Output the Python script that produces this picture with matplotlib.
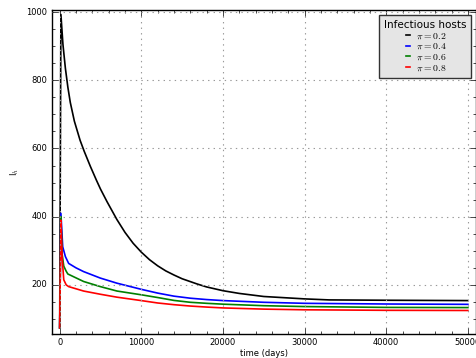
import matplotlib
matplotlib.use('Agg')
import matplotlib.pyplot as plt
from matplotlib.ticker import MultipleLocator

# datos (tiempo en dias, I_h)
t_02 = [0, 150, 400, 700, 1000, 1300, 1800, 2500, 3000, 3750, 4500, 5000, 5800,
        7000, 8000, 9000, 10000, 11000, 12000, 13000, 14000, 15000, 16800, 18000,
        20000, 22000, 25000, 30000, 33000, 40000, 50000]
i_02 = [74, 993, 905, 835, 780, 735, 680, 624, 592, 548, 507, 481, 444,
        392, 354, 322, 296, 274, 256, 241, 229, 218, 203, 194,
        183, 175, 166, 159, 156, 155, 154]

t_04 = [0, 150, 370, 700, 1100, 2000, 2930, 4980, 7020, 10000, 12000, 14000,
        16000, 18000, 20000, 25000, 30000, 40000, 50000]
i_04 = [74, 410, 312, 283, 263, 250, 239, 220, 205, 187, 176, 167,
        161, 157, 154, 149, 146, 144, 143]

t_06 = [0, 150, 300, 500, 800, 1000, 2930, 4980, 7020, 10000, 12000, 14000,
        16000, 18000, 20000, 25000, 30000, 40000, 50000]
i_06 = [74, 400, 290, 255, 240, 232, 210, 195, 182, 171, 163, 154.5,
        149, 146, 143.5, 139, 136.5, 134, 133.5]

t_08 = [0, 150, 300, 500, 800, 1100, 2930, 4980, 7020, 10000, 12000, 14000,
        16000, 18000, 20000, 25000, 30000, 40000, 50000]
i_08 = [74, 390, 280, 215, 200, 195, 182, 172.6, 164, 154, 147, 142,
        138, 135, 132.5, 129, 127, 125.5, 125]

plt.style.use('classic')
plt.rcParams['figure.facecolor'] = 'white'

fig = plt.figure(figsize=(4.77, 3.58), dpi=100)
ax = fig.add_axes([0.108, 0.067, 0.890, 0.905])

ax.plot(t_02, i_02, color='k', lw=1.2, label=r'$\pi=0.2$')
ax.plot(t_04, i_04, color='b', lw=1.2, label=r'$\pi=0.4$')
ax.plot(t_06, i_06, color='g', lw=1.2, label=r'$\pi=0.6$')
ax.plot(t_08, i_08, color='r', lw=1.2, label=r'$\pi=0.8$')

ax.set_xlim(-1000, 51000)
ax.set_ylim(56, 1006)
ax.xaxis.set_major_locator(MultipleLocator(10000))
ax.xaxis.set_minor_locator(MultipleLocator(2000))
ax.yaxis.set_major_locator(MultipleLocator(200))
ax.yaxis.set_minor_locator(MultipleLocator(50))
ax.tick_params(labelsize=6, which='both', pad=3)
ax.tick_params(which='major', length=4)
ax.tick_params(which='minor', length=2)

ax.grid(True, color='0.6', linestyle=':', linewidth=0.8)
ax.set_xlabel('time (days)', fontsize=6, labelpad=1)
ax.set_ylabel(r'I$_h$', fontsize=6, labelpad=4)

leg = ax.legend(loc='upper right', title='Infectious hosts', fontsize=7,
                handlelength=1.0, handletextpad=0.3, labelspacing=0.05,
                borderpad=0.5, fancybox=False)
leg.get_title().set_fontsize(7.5)
leg.get_frame().set_facecolor('#e5e5e5')
leg.get_frame().set_edgecolor('#333333')

fig.savefig('out.png', dpi=100)
